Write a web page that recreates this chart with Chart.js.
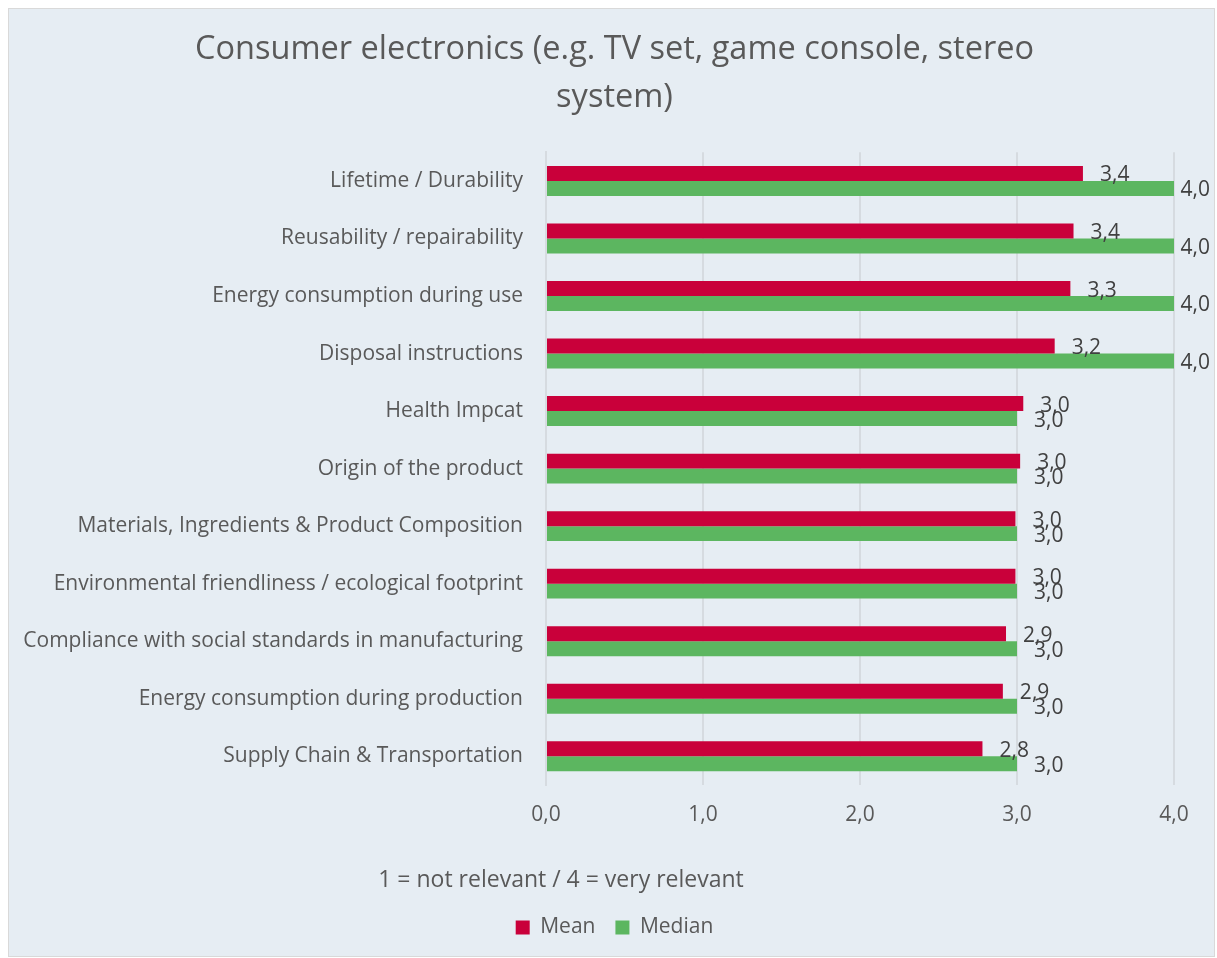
<!DOCTYPE html>
<html>
<head>
<meta charset="utf-8">
<script src="https://cdn.jsdelivr.net/npm/chart.js@4.4.1/dist/chart.umd.min.js"></script>
<style>
  html, body { margin: 0; padding: 0; background: #ffffff; }
  #box { position: absolute; left: 8px; top: 8px; width: 1205px; height: 947px;
         border: 1px solid #d9d9d9; background: #e6edf3; }
  canvas { display: block; }
</style>
</head>
<body>
<div id="box"><canvas id="c" width="1205" height="947"></canvas></div>
<script>
const titleLines = ["Consumer electronics (e.g. TV set, game console, stereo", "system)"];
const categories = [
  "Lifetime / Durability",
  "Reusability / repairability",
  "Energy consumption during use",
  "Disposal instructions",
  "Health Impcat",
  "Origin of the product",
  "Materials, Ingredients & Product Composition",
  "Environmental friendliness / ecological footprint",
  "Compliance with social standards in manufacturing",
  "Energy consumption during production",
  "Supply Chain & Transportation"
];
const meanValues   = [3.42, 3.36, 3.34, 3.24, 3.04, 3.02, 2.99, 2.99, 2.93, 2.91, 2.78];
const medianValues = [4.0, 4.0, 4.0, 4.0, 3.0, 3.0, 3.0, 3.0, 3.0, 3.0, 3.0];
const xTickValues  = [0, 1, 2, 3, 4];
const axisNote = "1 = not relevant / 4 = very relevant";
const seriesNames = ["Mean", "Median"];

const FONT = "'Open Sans', 'Noto Sans', sans-serif";
const TXT = "#595959";
const fmt = v => v.toFixed(1).replace('.', ',');

const labelPlugin = {
  id: 'barLabels',
  afterDatasetsDraw(chart) {
    const ctx = chart.ctx;
    ctx.save();
    ctx.font = "21px " + FONT;
    ctx.fillStyle = "#404040";
    ctx.textBaseline = "middle";
    ctx.textAlign = "left";
    chart.data.datasets.forEach((ds, di) => {
      const meta = chart.getDatasetMeta(di);
      meta.data.forEach((bar, i) => {
        const t = fmt(ds.data[i]);
        const w = ctx.measureText(t).width;
        let x = bar.x + 17;
        if (x + w > chart.width - 4) x = chart.width - 4 - w;
        ctx.fillText(t, x, bar.y + 2);
      });
    });
    ctx.restore();
  }
};

const notePlugin = {
  id: 'axisNote',
  afterDraw(chart) {
    const ctx = chart.ctx;
    ctx.save();
    ctx.font = "23px " + FONT;
    ctx.fillStyle = TXT;
    ctx.textAlign = "center";
    ctx.textBaseline = "middle";
    ctx.fillText(axisNote, 552, 871);
    ctx.restore();
  }
};

new Chart(document.getElementById('c'), {
  type: 'bar',
  data: {
    labels: categories,
    datasets: [
      { label: seriesNames[0], data: meanValues, backgroundColor: '#c9003a',
        barPercentage: 1.0, categoryPercentage: 0.52 },
      { label: seriesNames[1], data: medianValues, backgroundColor: '#5cb660',
        barPercentage: 1.0, categoryPercentage: 0.52 }
    ]
  },
  options: {
    indexAxis: 'y',
    responsive: false,
    animation: false,
    layout: { padding: { left: 6, right: 0, top: 0, bottom: 8 } },
    plugins: {
      title: {
        display: true, text: titleLines, color: TXT,
        font: { family: FONT, size: 32.5, weight: 'normal', lineHeight: 1.48 },
        padding: { top: 17, bottom: 30 }
      },
      legend: {
        position: 'bottom',
        labels: { color: TXT, font: { family: FONT, size: 21 },
                  boxWidth: 14, boxHeight: 14, padding: 20 }
      },
      tooltip: { enabled: false }
    },
    scales: {
      x: {
        min: 0, max: 4,
        afterBuildTicks(s) { s.ticks = xTickValues.map(v => ({ value: v })); },
        ticks: { color: TXT, font: { family: FONT, size: 21 }, padding: 17,
                 callback: v => fmt(v) },
        grid: { color: '#d6dbe0', lineWidth: 2, drawTicks: false },
        border: { display: false },
        afterFit(s) { s.height = 112; }
      },
      y: {
        ticks: { color: TXT, font: { family: FONT, size: 21 }, padding: 23 },
        grid: { display: false, drawTicks: false },
        border: { display: true, color: '#d6dbe0', width: 2 },
        afterFit(s) { s.width = 531; }
      },
      yRight: {
        type: 'category',
        position: 'right',
        ticks: { display: false },
        grid: { display: false, drawTicks: false },
        border: { display: false },
        afterFit(s) { s.width = 40; }
      }
    }
  },
  plugins: [labelPlugin, notePlugin]
});
</script>
</body>
</html>
